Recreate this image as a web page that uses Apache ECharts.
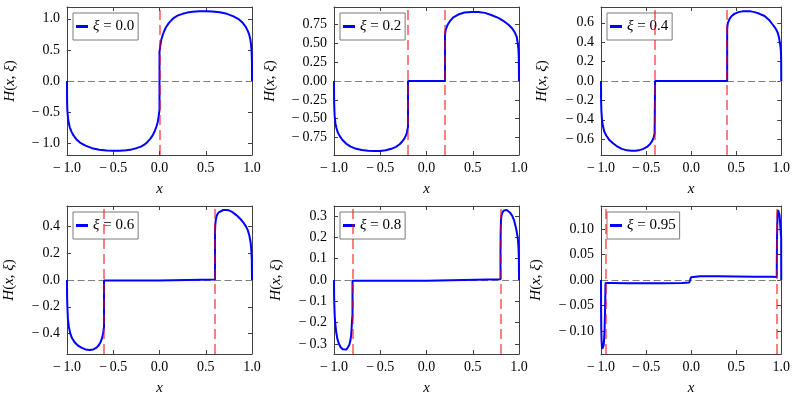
<!DOCTYPE html>
<html><head><meta charset="utf-8">
<script src="https://cdn.jsdelivr.net/npm/echarts@6/dist/echarts.min.js"></script>
<style>html,body{margin:0;padding:0;background:#fff}#c{width:793px;height:397px}</style>
</head><body><div id="c"></div><script>
// ---- data ----
const xiValues = [0.0, 0.2, 0.4, 0.6, 0.8, 0.95];
const xiLabels = ['0.0', '0.2', '0.4', '0.6', '0.8', '0.95'];
const xTickValues = [-1, -0.5, 0, 0.5, 1];
const yTicks1 = [-1, -0.5, 0, 0.5, 1];
const yTicks2 = [-0.75, -0.5, -0.25, 0, 0.25, 0.5, 0.75];
const yTicks3 = [-0.6, -0.4, -0.2, 0, 0.2, 0.4, 0.6];
const yTicks4 = [-0.4, -0.2, 0, 0.2, 0.4];
const yTicks5 = [-0.3, -0.2, -0.1, 0, 0.1, 0.2, 0.3];
const yTicks6 = [-0.1, -0.05, 0, 0.05, 0.1];
const yDecimals = [1, 2, 1, 1, 1, 2];
const yLimits = [1.19, 0.982, 0.763, 0.552, 0.347, 0.145];

const x1 = [-1, -0.999, -0.996, -0.99, -0.982, -0.97, -0.953, -0.93, -0.90, -0.86, -0.80, -0.73, -0.65, -0.57, -0.50, -0.43, -0.36, -0.30, -0.25, -0.20, -0.16, -0.13, -0.10, -0.07, -0.05, -0.035, -0.02, -0.01, -0.004, 0, 0, 0.004, 0.01, 0.02, 0.035, 0.05, 0.07, 0.10, 0.13, 0.16, 0.20, 0.25, 0.30, 0.36, 0.43, 0.50, 0.57, 0.65, 0.73, 0.80, 0.86, 0.90, 0.93, 0.953, 0.97, 0.982, 0.99, 0.996, 0.999, 1];
const y1 = [0, -0.33, -0.47, -0.58, -0.668, -0.745, -0.81, -0.875, -0.935, -0.99, -1.04, -1.08, -1.105, -1.118, -1.122, -1.12, -1.112, -1.10, -1.08, -1.055, -1.02, -0.98, -0.93, -0.865, -0.80, -0.74, -0.667, -0.58, -0.51, -0.47, 0.47, 0.51, 0.58, 0.667, 0.74, 0.80, 0.865, 0.93, 0.98, 1.02, 1.055, 1.08, 1.10, 1.112, 1.12, 1.122, 1.118, 1.105, 1.08, 1.04, 0.99, 0.935, 0.875, 0.81, 0.745, 0.668, 0.58, 0.47, 0.33, 0];

const x2 = [-1, -0.999, -0.996, -0.993, -0.985, -0.975, -0.96, -0.939, -0.91, -0.87, -0.82, -0.76, -0.70, -0.63, -0.56, -0.50, -0.44, -0.38, -0.33, -0.29, -0.26, -0.24, -0.225, -0.213, -0.205, -0.2, -0.2, 0.2, 0.2, 0.203, 0.208, 0.217, 0.23, 0.253, 0.29, 0.343, 0.41, 0.487, 0.56, 0.632, 0.70, 0.776, 0.84, 0.884, 0.925, 0.957, 0.975, 0.986, 0.994, 0.998, 1];
const y2 = [0, -0.25, -0.38, -0.46, -0.56, -0.618, -0.68, -0.728, -0.78, -0.83, -0.87, -0.90, -0.915, -0.925, -0.93, -0.93, -0.92, -0.90, -0.875, -0.84, -0.80, -0.765, -0.728, -0.69, -0.64, -0.61, 0, 0, 0.6, 0.645, 0.68, 0.706, 0.75, 0.794, 0.845, 0.882, 0.908, 0.917, 0.915, 0.904, 0.876, 0.838, 0.79, 0.75, 0.70, 0.64, 0.585, 0.507, 0.42, 0.3, 0];

const x3 = [-1, -0.999, -0.996, -0.99, -0.98, -0.964, -0.94, -0.91, -0.87, -0.82, -0.77, -0.71, -0.66, -0.62, -0.58, -0.53, -0.49, -0.455, -0.43, -0.415, -0.405, -0.4, -0.4, 0.4, 0.4, 0.403, 0.408, 0.416, 0.43, 0.45, 0.48, 0.525, 0.57, 0.615, 0.66, 0.705, 0.76, 0.815, 0.865, 0.906, 0.935, 0.96, 0.975, 0.985, 0.992, 0.996, 0.999, 1];
const y3 = [0, -0.2, -0.3, -0.39, -0.46, -0.52, -0.565, -0.605, -0.64, -0.675, -0.70, -0.715, -0.72, -0.72, -0.715, -0.70, -0.68, -0.65, -0.615, -0.58, -0.54, -0.52, 0, 0, 0.53, 0.57, 0.6, 0.62, 0.645, 0.67, 0.692, 0.71, 0.718, 0.72, 0.718, 0.71, 0.693, 0.67, 0.63, 0.58, 0.545, 0.5, 0.45, 0.39, 0.35, 0.31, 0.22, 0];

const x4 = [-1, -0.999, -0.996, -0.99, -0.98, -0.964, -0.945, -0.917, -0.88, -0.845, -0.80, -0.754, -0.715, -0.68, -0.655, -0.635, -0.62, -0.61, -0.604, -0.6, -0.6, 0, 0, 0.6, 0.6, 0.603, 0.608, 0.615, 0.625, 0.64, 0.66, 0.69, 0.72, 0.75, 0.78, 0.81, 0.845, 0.875, 0.905, 0.935, 0.955, 0.972, 0.985, 0.993, 0.998, 1];
const y4 = [0, -0.12, -0.2, -0.29, -0.35, -0.40, -0.435, -0.465, -0.49, -0.505, -0.518, -0.522, -0.518, -0.505, -0.485, -0.46, -0.43, -0.40, -0.37, -0.35, -0.004, -0.003, 0.003, 0.003, 0.36, 0.41, 0.445, 0.47, 0.49, 0.505, 0.515, 0.522, 0.523, 0.52, 0.51, 0.495, 0.475, 0.455, 0.43, 0.40, 0.37, 0.33, 0.28, 0.22, 0.15, 0];

const x5 = [-1, -0.999, -0.996, -0.992, -0.986, -0.976, -0.964, -0.948, -0.928, -0.905, -0.884, -0.865, -0.848, -0.835, -0.823, -0.815, -0.81, -0.805, -0.8, -0.8, 0, 0, 0.8, 0.8, 0.802, 0.805, 0.81, 0.82, 0.833, 0.848, 0.865, 0.884, 0.905, 0.928, 0.948, 0.964, 0.976, 0.986, 0.992, 0.996, 0.999, 1];
const y5 = [0, -0.07, -0.125, -0.17, -0.205, -0.245, -0.275, -0.298, -0.315, -0.325, -0.328, -0.326, -0.318, -0.305, -0.285, -0.26, -0.23, -0.19, -0.16, -0.004, -0.004, 0.004, 0.004, 0.15, 0.23, 0.28, 0.30, 0.315, 0.325, 0.329, 0.329, 0.325, 0.315, 0.30, 0.278, 0.25, 0.225, 0.20, 0.17, 0.14, 0.08, 0];

const x6 = [-1, -0.999, -0.997, -0.994, -0.99, -0.985, -0.98, -0.975, -0.97, -0.965, -0.96, -0.955, -0.952, -0.95, -0.95, -0.9, -0.7, -0.5, -0.3, -0.1, -0.02, 0, 0, 0.02, 0.1, 0.3, 0.5, 0.7, 0.9, 0.95, 0.95, 0.951, 0.953, 0.956, 0.96, 0.965, 0.97, 0.975, 0.98, 0.985, 0.99, 0.994, 0.997, 0.999, 1];
const y6 = [0, -0.06, -0.095, -0.117, -0.13, -0.135, -0.136, -0.134, -0.127, -0.115, -0.095, -0.06, -0.03, -0.006, -0.0055, -0.006, -0.0065, -0.0066, -0.0064, -0.0058, -0.005, -0.0045, 0.0055, 0.0068, 0.0072, 0.0072, 0.007, 0.0066, 0.0062, 0.006, 0.006, 0.04, 0.08, 0.11, 0.13, 0.137, 0.138, 0.135, 0.128, 0.118, 0.105, 0.095, 0.088, 0.084, 0];

// ---- layout / style ----
const curvesX = [x1, x2, x3, x4, x5, x6];
const curvesY = [y1, y2, y3, y4, y5, y6];
const yTicks = [yTicks1, yTicks2, yTicks3, yTicks4, yTicks5, yTicks6];
const gridLefts = [67, 334, 601];
const gridWidths = [185, 185, 184];
const gridTops = [7, 206];
const gridHeight = 148;
const yNameGaps = [49, 56, 51, 50, 50, 57];
const FONT = 'Liberation Serif';
const FRAME = '#404040';

function fmt(v, d) {
  return (v < 0 ? '\u2212\u2009' : '') + Math.abs(v).toFixed(d);
}

const grids = [], xAxes = [], yAxes = [], series = [], legends = [];
for (let i = 0; i < 6; i++) {
  const col = i % 3, row = Math.floor(i / 3);
  const left = gridLefts[col], top = gridTops[row];
  grids.push({ left: left, top: top, width: gridWidths[col], height: gridHeight, containLabel: false });
  const lim = yLimits[i];
  const axisLine = { show: true, onZero: false, lineStyle: { color: FRAME, width: 1 } };
  const tick = (vals) => ({ show: true, inside: true, length: 4, customValues: vals, lineStyle: { color: FRAME, width: 1 } });
  xAxes.push({
    type: 'value', gridIndex: i, min: -1, max: 1, position: 'bottom',
    axisLine: axisLine, axisTick: tick(xTickValues), splitLine: { show: false },
    axisLabel: { show: true, customValues: xTickValues, margin: 6, fontFamily: FONT, fontSize: 14, color: '#000',
      formatter: v => fmt(v, 1) },
    name: 'x', nameLocation: 'middle', nameGap: 27,
    nameTextStyle: { fontFamily: FONT, fontStyle: 'italic', fontSize: 15, color: '#000' }
  });
  xAxes.push({
    type: 'value', gridIndex: i, min: -1, max: 1, position: 'top',
    axisLine: axisLine, axisTick: tick(xTickValues), splitLine: { show: false }, axisLabel: { show: false }
  });
  yAxes.push({
    type: 'value', gridIndex: i, min: -lim, max: lim, position: 'left',
    axisLine: axisLine, axisTick: tick(yTicks[i]), splitLine: { show: false },
    axisLabel: { show: true, customValues: yTicks[i], margin: 7, fontFamily: FONT, fontSize: 14, color: '#000',
      formatter: v => fmt(v, yDecimals[i]) },
    name: '{it|H}({it|x}, {it|\u03BE})', nameLocation: 'middle', nameRotate: 90, nameGap: yNameGaps[i],
    nameTextStyle: { fontFamily: FONT, fontSize: 15, color: '#000',
      rich: { it: { fontFamily: FONT, fontStyle: 'italic', fontSize: 15, color: '#000' } } }
  });
  yAxes.push({
    type: 'value', gridIndex: i, min: -lim, max: lim, position: 'right',
    axisLine: axisLine, axisTick: tick(yTicks[i]), splitLine: { show: false }, axisLabel: { show: false }
  });

  const name = '\u03BE = ' + xiLabels[i];
  const xi = xiValues[i];
  const xiLines = xi === 0 ? [{ xAxis: 0 }] : [{ xAxis: -xi }, { xAxis: xi }];

  series.push({
    type: 'line', xAxisIndex: 2 * i, yAxisIndex: 2 * i, data: [], silent: true, z: 1,
    markLine: { z: 1, silent: true, symbol: 'none', animation: false, label: { show: false },
      lineStyle: { color: '#808080', width: 1.2, type: [7, 3.5] }, data: [{ yAxis: 0 }] }
  });
  series.push({
    type: 'line', name: name, xAxisIndex: 2 * i, yAxisIndex: 2 * i, z: 2,
    data: curvesX[i].map((x, k) => [x, curvesY[i][k]]),
    showSymbol: false, clip: false, silent: true,
    lineStyle: { color: '#0000ff', width: 2 }, itemStyle: { color: '#0000ff' }
  });
  series.push({
    type: 'line', xAxisIndex: 2 * i, yAxisIndex: 2 * i, data: [], silent: true, z: 3,
    markLine: { z: 6, silent: true, symbol: 'none', animation: false, label: { show: false },
      lineStyle: { color: 'rgba(255,0,0,0.5)', width: 2, type: [10, 5] }, data: xiLines }
  });

  legends.push({
    data: [name], left: left + 6, top: top + 6, orient: 'vertical', icon: 'rect',
    itemWidth: 12, itemHeight: 3, padding: [6, 4, 6, 3], selectedMode: false,
    backgroundColor: '#fff', borderColor: '#7a7a7a', borderWidth: 1, borderRadius: 0,
    formatter: n => n.replace('\u03BE', '{it|\u03BE}'),
    textStyle: { fontFamily: FONT, fontSize: 15, color: '#000',
      rich: { it: { fontFamily: FONT, fontStyle: 'italic', fontSize: 15, color: '#000' } } }
  });
}

const chart = echarts.init(document.getElementById('c'), null, { renderer: 'canvas' });
chart.setOption({
  animation: false,
  backgroundColor: '#fff',
  grid: grids, xAxis: xAxes, yAxis: yAxes, series: series, legend: legends
});
</script></body></html>
